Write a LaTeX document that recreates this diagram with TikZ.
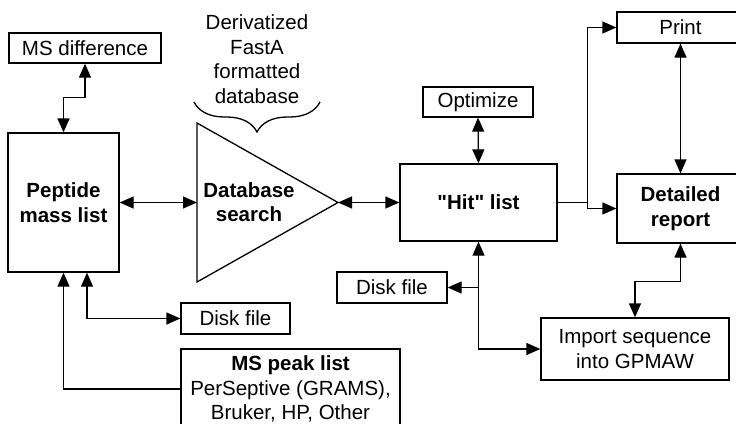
\documentclass[tikz,border=0pt]{standalone}
\usepackage{fontspec}
\setmainfont{Liberation Sans}
\usetikzlibrary{arrows.meta}
\usetikzlibrary{decorations.pathreplacing}
\tikzset{>={Triangle[length=14pt, width=12pt]}}
\tikzset{box/.style = {draw, inner sep=0, align=center, font=\fontsize{20.5}{24.5}\selectfont}}
\tikzset{bbox/.style = {box, font=\fontsize{20.5}{24.5}\selectfont\bfseries}}

\begin{document}
\begin{tikzpicture}[x=1pt, y=-1pt, line width=1.3pt]
    \useasboundingbox (0, 0) rectangle (736, 423);

    \node [box, minimum width=152pt, minimum height=30pt] (msdiff) at (85, 48) {MS difference};
    \node [bbox, minimum width=111pt, minimum height=139pt] (peptide) at (63.5, 202.5) {Peptide\\mass list};

    \draw (197, 123) -- (338, 202.5) -- (197, 282) -- cycle;
    \coordinate (dbin) at (197, 202.5);
    \coordinate (dbtip) at (338, 202.5);
    \node [bbox, draw=none] (dbsearch) at (249, 202) {Database\\search};

    \node [box, draw=none] (fasta) at (257, 59) {Derivatized\\FastA\\formatted\\database};
    \draw [decorate, decoration={brace, mirror, amplitude=30pt}] (194, 102) -- (320, 102);

    \node [bbox, minimum width=157pt, minimum height=77pt] (hit) at (478.5, 202.5) {\textquotedbl Hit\textquotedbl{} list};
    \node [box, minimum width=110pt, minimum height=30pt] (optimize) at (478, 102) {Optimize};
    \node [box, minimum width=127pt, minimum height=31pt] (print) at (680.5, 27.5) {Print};
    \node [bbox, minimum width=127pt, minimum height=69pt] (report) at (680.5, 208.5) {Detailed\\report};
    \node [box, minimum width=110pt, minimum height=31pt] (diskhit) at (392, 287.5) {Disk file};
    \node [box, minimum width=188pt, minimum height=62pt] (import) at (635, 349) {Import sequence\\into GPMAW};
    \node [box, minimum width=109pt, minimum height=31pt] (diskpep) at (235.5, 318.5) {Disk file};
    \node [box, minimum width=219pt, minimum height=80pt] (peak) at (290.5, 389) {\textbf{MS peak list}\\PerSeptive (GRAMS),\\Bruker, HP, Other};

    \draw [<->] (msdiff.south) -- ++(0, 34) -| (peptide.north);
    \draw [<->] (peptide.east) -- (dbin);
    \draw [<->] (dbtip) -- (hit.west);
    \draw [<->] (optimize.south) -- (hit.north);

    \draw (hit.east) -- ++(30, 0) coordinate (split);
    \draw [->] (split) |- (print.west);
    \draw [->] (split) |- (report.west);
    \draw [<->] (print.south) -- (report.north);

    \draw [<->] (hit.south) |- (import.west);
    \draw [->] (hit.south |- diskhit.east) -- (diskhit.east);
    \draw [<->] (report.south) -- ++(0, 38) -| (import.north);

    \draw [<->] ([xshift=23.5pt]peptide.south) |- (diskpep.west);
    \draw [->] (peak.west) -| (peptide.south);
  \end{tikzpicture}
\end{document}
